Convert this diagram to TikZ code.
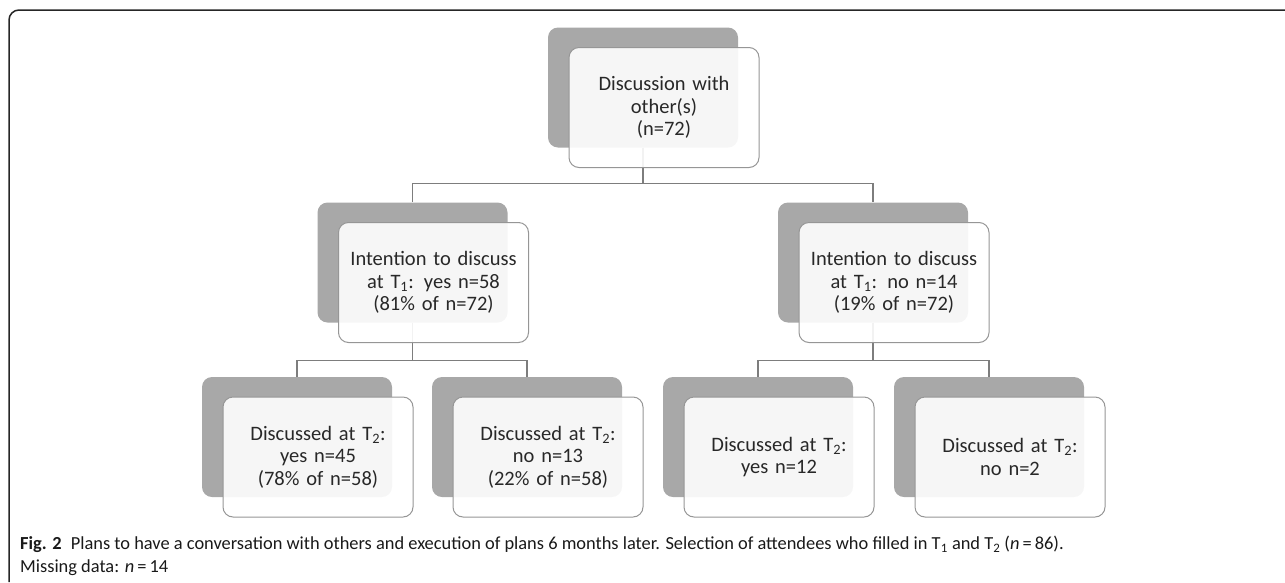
\documentclass[tikz,border=0pt]{standalone}
\usepackage{fontspec}
\setmainfont{Carlito}
\usepackage{tikz}
\usetikzlibrary{positioning,calc}
\definecolor{shade}{RGB}{168,168,168}
\definecolor{edge}{RGB}{150,150,150}
\definecolor{ink}{RGB}{40,40,40}
\definecolor{wire}{RGB}{125,125,125}

\begin{document}
\begin{tikzpicture}[x=1pt,y=1pt,
      back/.style={fill=shade,rounded corners=10pt,minimum width=190pt,minimum height=120pt,inner sep=0pt},
      front/.style={draw=edge,line width=1pt,fill=white,fill opacity=0.9,text opacity=1,
                    rounded corners=10pt,minimum width=190pt,minimum height=120pt,inner sep=0pt,
                    text width=184pt,align=center,text=ink,font=\fontsize{20.5}{22.5}\selectfont},
      link/.style={draw=wire,line width=1.2pt},
      frame/.style={draw=black!85,line width=1.5pt},
      captext/.style={anchor=north west,align=left,inner sep=0pt,text=black!90,font=\fontsize{18.4}{23}\selectfont}]
      \useasboundingbox (0,0) rectangle (1285,-582);
      \draw[frame] (9,-582) [rounded corners=10pt] -- (9,-10) -- (1285,-10);
      % shadow boxes
      \node[back] (disc) at (643,-87.5) {};
      \node[back] (yes) at (412.5,-262.5) {};
      \node[back] (no) at (873,-262.5) {};
      \node[back] (yesyes) at (297,-437) {};
      \node[back] (yesno) at (527,-437) {};
      \node[back] (noyes) at (758,-437) {};
      \node[back] (nono) at (989,-437) {};
      % tree lines
      \draw[link] (disc.south) -- ++(0,-35.5) -| (yes.north);
      \draw[link] (disc.south) -- ++(0,-35.5) -| (no.north);
      \draw[link] (yes.south) -- ++(0,-37.5) -| (yesyes.north);
      \draw[link] (yes.south) -- ++(0,-37.5) -| (yesno.north);
      \draw[link] (no.south) -- ++(0,-37.5) -| (noyes.north);
      \draw[link] (no.south) -- ++(0,-37.5) -| (nono.north);
      % text cards
      \node[front] (discT) at ([shift={(21,-20)}]disc.center) {Discussion with\\other(s)\\(n=72)};
      \node[front] (yesT) at ([shift={(21,-20)}]yes.center) {Intention to discuss\\at T\textsubscript{1}: yes n=58\\(81\% of n=72)};
      \node[front] (noT) at ([shift={(21,-20)}]no.center) {Intention to discuss\\at T\textsubscript{1}: no n=14\\(19\% of n=72)};
      \node[front] (yesyesT) at ([shift={(21,-20)}]yesyes.center) {Discussed at T\textsubscript{2}:\\yes n=45\\(78\% of n=58)};
      \node[front] (yesnoT) at ([shift={(21,-20)}]yesno.center) {Discussed at T\textsubscript{2}:\\no n=13\\(22\% of n=58)};
      \node[front] (noyesT) at ([shift={(21,-20)}]noyes.center) {Discussed at T\textsubscript{2}:\\yes n=12};
      \node[front] (nonoT) at ([shift={(21,-20)}]nono.center) {Discussed at T\textsubscript{2}:\\no n=2};
      \node[captext] (caption) at (20,-536) {\textbf{Fig. 2}\enspace Plans to have a conversation with others and execution of plans 6 months later. Selection of attendees who filled in T\textsubscript{1} and T\textsubscript{2} (\textit{n}\,=\,86).\\Missing data: \textit{n}\,=\,14};
    \end{tikzpicture}
\end{document}
